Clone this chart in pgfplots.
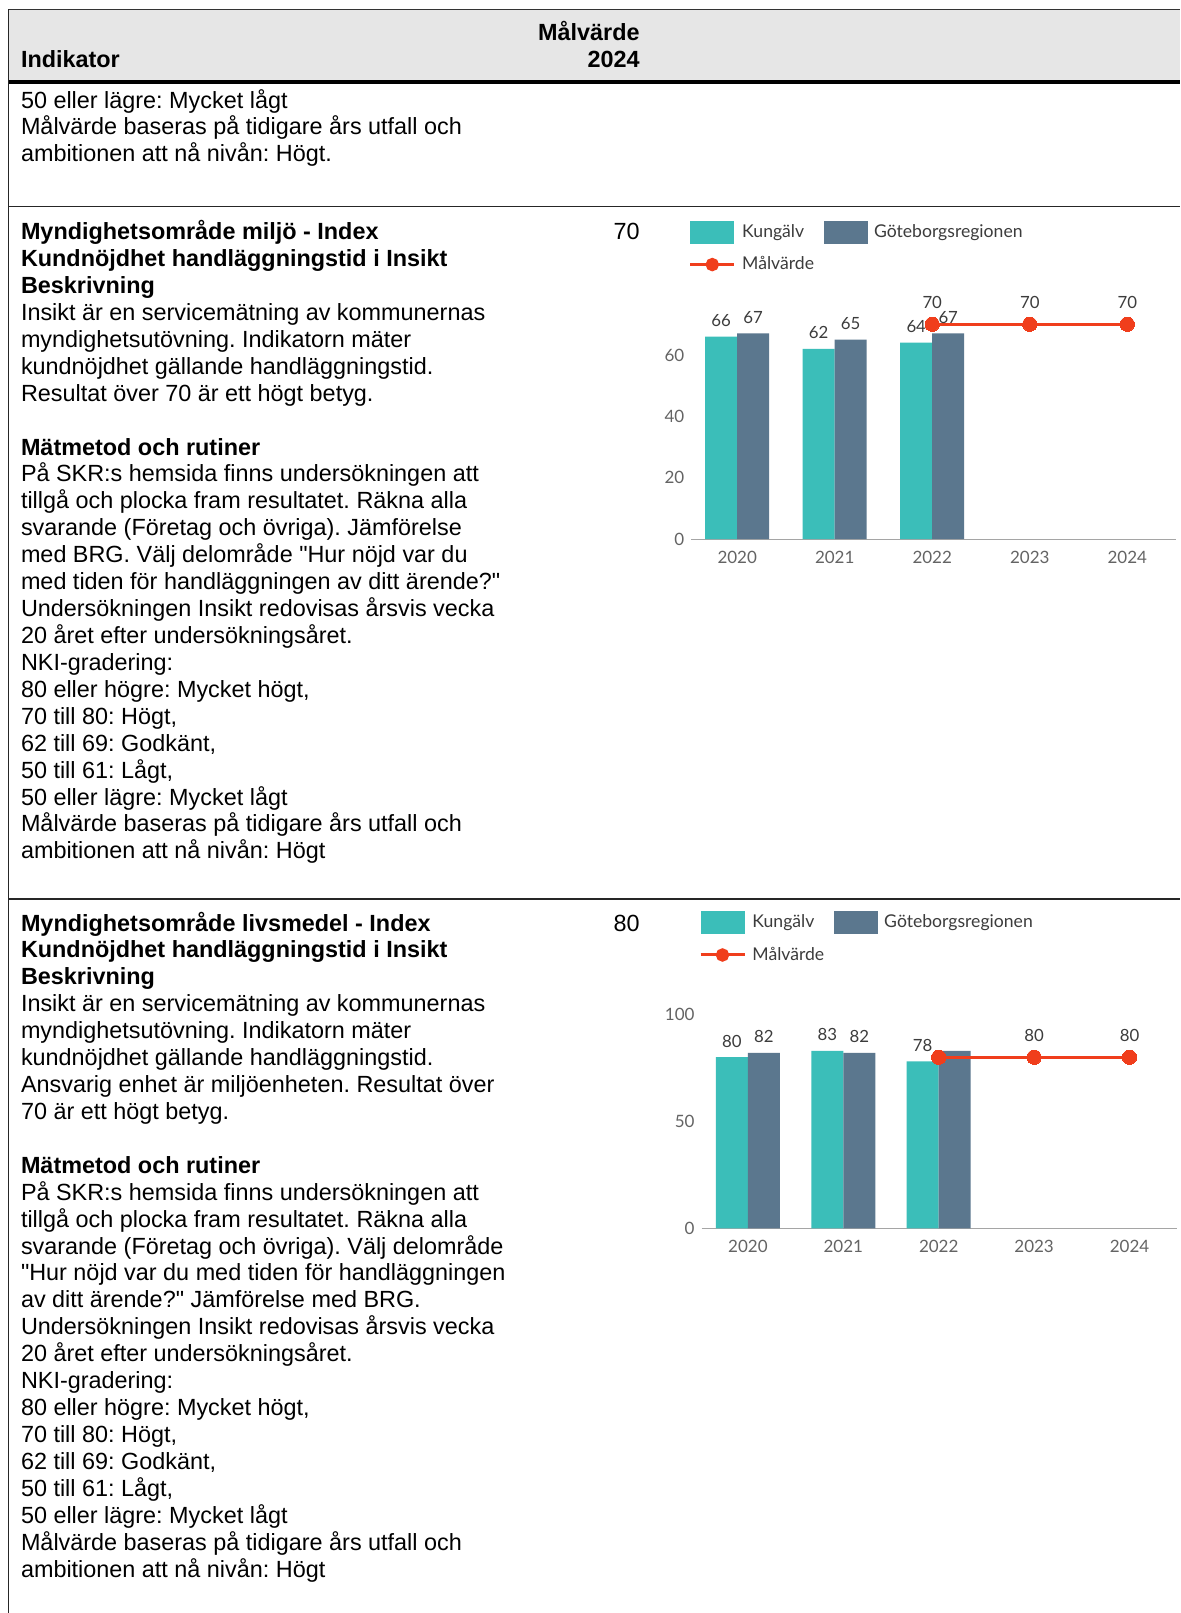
\documentclass[border=0pt]{standalone}
\usepackage{pgfplots}
\pgfplotsset{compat=1.18}
\usepackage{fontspec}
\newfontfamily\arial{Liberation Sans}
\newfontfamily\chartfont{Lato}
\frenchspacing

\definecolor{kung}{RGB}{59,190,185}
\definecolor{gbg}{RGB}{91,119,142}
\definecolor{mal}{RGB}{240,62,28}
\definecolor{hdr}{RGB}{230,230,230}
\definecolor{lbl}{RGB}{60,60,60}
\definecolor{tck}{RGB}{100,100,100}
\definecolor{axl}{RGB}{165,165,165}

\pgfplotsset{
  kchart/.style={
    anchor=south west, scale only axis,
    xmax=4.5, ymin=0,
    axis x line=bottom, axis y line=left,
    x axis line style={draw=axl, line width=0.6pt, -},
    y axis line style={draw=none},
    major tick length=0pt,
    xtick={0,1,2,3,4}, xticklabels={2020,2021,2022,2023,2024},
    ticklabel style={font=\chartfont\fontsize{8.5}{10}\selectfont, text=tck},
    xticklabel style={yshift=-2.5pt},
    /pgf/number format/assume math mode=true,
    legend columns=2,
    legend cell align=left,
    legend style={draw=none, fill=none, inner sep=0pt, xshift=-1.5pt,
      font=\chartfont\fontsize{8.8}{10}\selectfont, text=lbl,
      column sep=1.2pt, row sep=4pt,
      /tikz/every even column/.append style={column sep=2.8pt}},
    clip=false,
  },
  barlbl/.style={nodes near coords, point meta=explicit symbolic,
    every node near coord/.append style={font=\chartfont\fontsize{8.4}{9.6}\selectfont,
      text=lbl, inner sep=0pt, anchor=south, yshift=4.8pt, xshift=#1}},
  kbar/.style={ybar, bar width=16pt, bar shift=-8pt, draw=none, fill=kung, barlbl=-8pt,
    legend image code/.code={\fill[kung] (0pt,-5.75pt) rectangle (22pt,5.75pt);}},
  gbar/.style={ybar, bar width=16pt, bar shift=8pt, draw=none, fill=gbg, barlbl=8pt,
    legend image code/.code={\fill[gbg] (0pt,-5.75pt) rectangle (22pt,5.75pt);}},
  mline/.style={color=mal, line width=1.5pt, mark=*, mark size=3.6pt,
    mark options={solid, fill=mal, draw=mal, line width=0pt},
    nodes near coords, point meta=explicit symbolic,
    every node near coord/.append style={font=\chartfont\fontsize{8.4}{9.6}\selectfont,
      text=lbl, inner sep=0pt, anchor=south, yshift=8pt},
    legend image code/.code={\draw[mal, line width=1.5pt] (0pt,0pt) -- (22pt,0pt);
      \fill[mal] (11pt,0pt) circle (2.6pt);}},
}

% one line of the table text per node, 27px apart
\newcommand\rowtext[2]{%
  \foreach \t [count=\i from 0] in {#2} {
    \node[anchor=base west, inner sep=0pt] at ({10.3pt}, {#1 - \i*13.46pt}) {\t};
  }%
}

\begin{document}
\begin{tikzpicture}[font=\arial\fontsize{11.7}{13.46}\selectfont]
\useasboundingbox (0,0) rectangle (590pt,-806.5pt);
\fill[white] (0,0) rectangle (590pt,-806.5pt);

% table frame
\fill[hdr] (4.1pt,-4.65pt) rectangle (590pt,-40.5pt);
\draw[black!80, line width=0.7pt] (4.1pt,-4.65pt) -- (590pt,-4.65pt);
\draw[black, line width=1.8pt] (4.1pt,-40.9pt) -- (590pt,-40.9pt);
\draw[black!85, line width=0.6pt] (4.1pt,-103.4pt) -- (590pt,-103.4pt);
\draw[black!85, line width=0.6pt] (4.1pt,-449.5pt) -- (590pt,-449.5pt);
\draw[black!85, line width=0.6pt] (4.1pt,-4.65pt) -- (4.1pt,-806.5pt);

% header
\node[anchor=base west, inner sep=0pt, font=\arial\bfseries\fontsize{11.7}{13.46}\selectfont] at (10.3pt,-33.5pt) {Indikator};
\node[anchor=base east, inner sep=0pt, font=\arial\bfseries\fontsize{11.7}{13.46}\selectfont] at (320pt,-20pt) {Målvärde};
\node[anchor=base east, inner sep=0pt, font=\arial\bfseries\fontsize{11.7}{13.46}\selectfont] at (320pt,-33.5pt) {2024};

% row texts
\rowtext{-54pt}{{50 eller lägre: Mycket lågt},
  {Målvärde baseras på tidigare års utfall och},
  {ambitionen att nå nivån: Högt.}}

\rowtext{-119.85pt}{{\textbf{Myndighetsområde miljö - Index}},
  {\textbf{Kundnöjdhet handläggningstid i Insikt}},
  {\textbf{Beskrivning}},
  {Insikt är en servicemätning av kommunernas},
  {myndighetsutövning. Indikatorn mäter},
  {kundnöjdhet gällande handläggningstid.},
  {Resultat över 70 är ett högt betyg.},
  {},
  {\textbf{Mätmetod och rutiner}},
  {På SKR:s hemsida finns undersökningen att},
  {tillgå och plocka fram resultatet. Räkna alla},
  {svarande (Företag och övriga). Jämförelse},
  {med BRG. Välj delområde "Hur nöjd var du},
  {med tiden för handläggningen av ditt ärende?"},
  {Undersökningen Insikt redovisas årsvis vecka},
  {20 året efter undersökningsåret.},
  {NKI-gradering:},
  {80 eller högre: Mycket högt,},
  {70 till 80: Högt,},
  {62 till 69: Godkänt,},
  {50 till 61: Lågt,},
  {50 eller lägre: Mycket lågt},
  {Målvärde baseras på tidigare års utfall och},
  {ambitionen att nå nivån: Högt}}

\rowtext{-465.5pt}{{\textbf{Myndighetsområde livsmedel - Index}},
  {\textbf{Kundnöjdhet handläggningstid i Insikt}},
  {\textbf{Beskrivning}},
  {Insikt är en servicemätning av kommunernas},
  {myndighetsutövning. Indikatorn mäter},
  {kundnöjdhet gällande handläggningstid.},
  {Ansvarig enhet är miljöenheten. Resultat över},
  {70 är ett högt betyg.},
  {},
  {\textbf{Mätmetod och rutiner}},
  {På SKR:s hemsida finns undersökningen att},
  {tillgå och plocka fram resultatet. Räkna alla},
  {svarande (Företag och övriga). Välj delområde},
  {"Hur nöjd var du med tiden för handläggningen},
  {av ditt ärende?" Jämförelse med BRG.},
  {Undersökningen Insikt redovisas årsvis vecka},
  {20 året efter undersökningsåret.},
  {NKI-gradering:},
  {80 eller högre: Mycket högt,},
  {70 till 80: Högt,},
  {62 till 69: Godkänt,},
  {50 till 61: Lågt,},
  {50 eller lägre: Mycket lågt},
  {Målvärde baseras på tidigare års utfall och},
  {ambitionen att nå nivån: Högt}}

% target values
\node[anchor=base east, inner sep=0pt] at (320pt,-119.85pt) {70};
\node[anchor=base east, inner sep=0pt] at (320pt,-465.5pt) {80};

% chart: miljö
\begin{axis}[kchart, at={(345.7pt,-269.55pt)}, width=242.3pt, height=122.8pt,
    xmin=-0.47, ymax=80, ytick={0,20,40,60},
    legend style={at={(0,1.299)}, anchor=north west}]
  \addplot[kbar] coordinates {(0,66)[66] (1,62)[62] (2,64)[64]};
  \addplot[gbar] coordinates {(0,67)[67] (1,65)[65] (2,67)[67]};
  \addplot[mline] coordinates {(2,70)[70] (3,70)[70] (4,70)[70]};
  \legend{Kungälv, Göteborgsregionen, Målvärde}
\end{axis}

% chart: livsmedel
\begin{axis}[kchart, at={(350.8pt,-614.2pt)}, width=237.8pt, height=107pt,
    xmin=-0.486, ymax=100, ytick={0,50,100},
    legend style={at={(0,1.4855)}, anchor=north west}]
  \addplot[kbar] coordinates {(0,80)[80] (1,83)[83] (2,78)[78]};
  \addplot[gbar] coordinates {(0,82)[82] (1,82)[82] (2,83)[{}]};
  \addplot[mline] coordinates {(2,80)[{}] (3,80)[80] (4,80)[80]};
  \legend{Kungälv, Göteborgsregionen, Målvärde}
\end{axis}
\end{tikzpicture}
\end{document}
